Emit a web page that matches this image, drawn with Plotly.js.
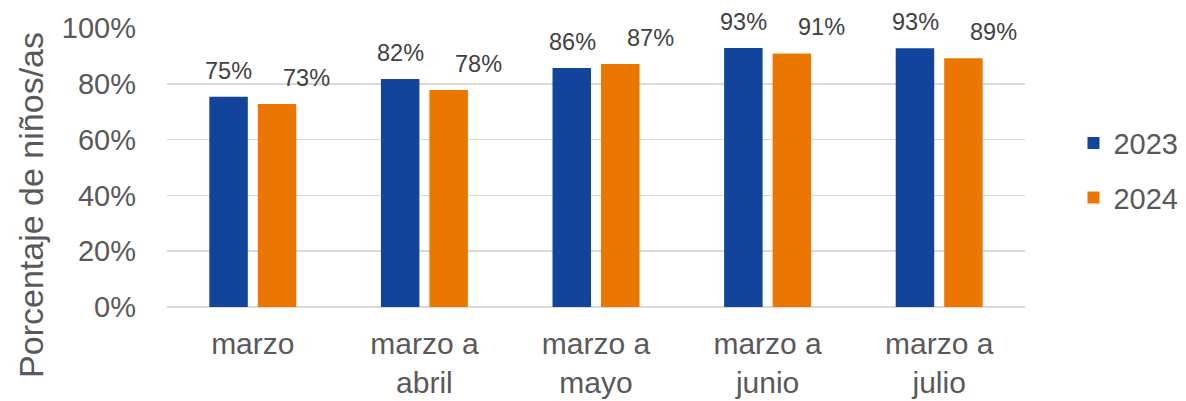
<!DOCTYPE html>
<html><head><meta charset="utf-8">
<script src="https://cdn.plot.ly/plotly-3.0.1.min.js"></script>
<style>html,body{margin:0;padding:0;background:#fff}#chart{width:1186px;height:401px}</style>
</head><body><div id="chart"></div>
<script>
const categories = ["marzo", "marzo a abril", "marzo a mayo", "marzo a junio", "marzo a julio"];
const tickLabels = ["marzo", "marzo a<br>abril", "marzo a<br>mayo", "marzo a<br>junio", "marzo a<br>julio"];
const seriesNames = ["2023", "2024"];
const values2023 = [0.754, 0.817, 0.857, 0.928, 0.927];
const values2024 = [0.728, 0.778, 0.871, 0.909, 0.892];
const yTitle = "Porcentaje de niños/as";
const colors = ["#11449A", "#EC7700"];

const series = [values2023, values2024];
const traces = series.map((vals, i) => ({
  type: "bar", x: categories, y: vals, name: seriesNames[i],
  legendgroup: "g" + i,
  marker: {color: colors[i], line: {width: 0}},
  hoverinfo: "skip"
}));

const labelShift = [-24, 54];
const annotations = [];
series.forEach((vals, i) => {
  vals.forEach((v, j) => {
    annotations.push({
      x: categories[j], y: v, xref: "x", yref: "y",
      text: Math.round(v * 100) + "%", showarrow: false,
      yanchor: "bottom", xanchor: "center",
      xshift: labelShift[i], yshift: 11,
      font: {family: "Liberation Sans, Arial, sans-serif", size: 23.5, color: "#404040"}
    });
  });
});
annotations.push({
  text: yTitle, xref: "paper", yref: "paper", x: -0.1585, y: 0.366,
  xanchor: "center", yanchor: "middle", textangle: -90, showarrow: false,
  font: {family: "Liberation Sans, Arial, sans-serif", size: 34, color: "#595959"}
});

const layout = {
  width: 1186, height: 401,
  margin: {l: 167, r: 161, t: 28, b: 94, autoexpand: false},
  paper_bgcolor: "#fff", plot_bgcolor: "#fff",
  barmode: "group", bargap: 0.435, bargroupgap: 0.206,
  font: {family: "Liberation Sans, Arial, sans-serif", color: "#595959"},
  showlegend: true,
  legend: {x: 1.0565, xanchor: "left", y: 0.489, yanchor: "middle",
    font: {size: 29, color: "#595959"}, tracegroupgap: 14, traceorder: "grouped",
    itemwidth: 30},
  xaxis: {
    type: "category", tickvals: categories, ticktext: tickLabels,
    tickfont: {size: 30, color: "#595959"}, showgrid: false, zeroline: false,
    showline: false, ticks: "", ticklabelstandoff: 16, automargin: false
  },
  yaxis: {
    range: [0, 1], dtick: 0.2, tickformat: ".0%",
    tickfont: {size: 29, color: "#595959"},
    showgrid: true, gridcolor: "#D9D9D9", gridwidth: 1.5,
    zeroline: true, zerolinecolor: "#D9D9D9", zerolinewidth: 1.5,
    ticks: "", ticklabelstandoff: 30, automargin: false
  },
  annotations: annotations
};

Plotly.newPlot("chart", traces, layout, {staticPlot: true, displayModeBar: false});
</script></body></html>
